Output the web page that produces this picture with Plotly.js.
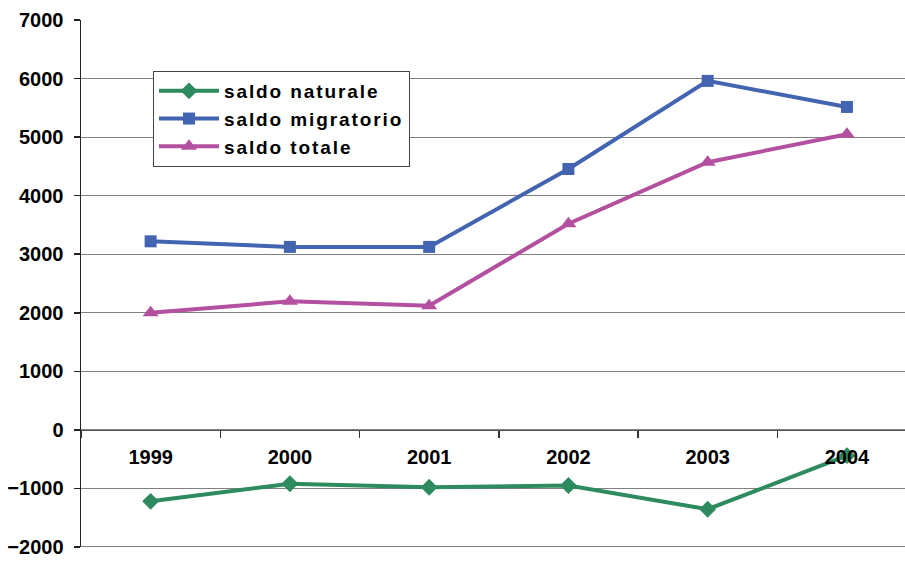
<!DOCTYPE html>
<html>
<head>
<meta charset="utf-8">
<script src="https://cdn.plot.ly/plotly-3.0.1.min.js"></script>
<style>
html,body{margin:0;padding:0;background:#fff;}
#chart{width:905px;height:561px;}
.legendtext{letter-spacing:1.9px;}
</style>
</head>
<body>
<div id="chart"></div>
<script>
const years = ['1999','2000','2001','2002','2003','2004'];
const saldoNaturale = [-1220, -920, -980, -950, -1355, -440];
const saldoMigratorio = [3220, 3125, 3125, 4455, 5960, 5515];
const saldoTotale = [2000, 2195, 2120, 3520, 4570, 5050];
const seriesNames = ['saldo naturale', 'saldo migratorio', 'saldo totale'];
const yTicks = [-2000, -1000, 0, 1000, 2000, 3000, 4000, 5000, 6000, 7000];

const fontFam = 'Liberation Sans, Arial, sans-serif';

const traces = [
  {x: years, y: saldoNaturale, name: seriesNames[0], type: 'scatter', mode: 'lines+markers',
   line: {color: '#2E8B5F', width: 4}, marker: {symbol: 'diamond', size: 13, color: '#2E8B5F'}},
  {x: years, y: saldoMigratorio, name: seriesNames[1], type: 'scatter', mode: 'lines+markers',
   line: {color: '#4264B1', width: 4}, marker: {symbol: 'square', size: 12, color: '#4264B1'}},
  {x: years, y: saldoTotale, name: seriesNames[2], type: 'scatter', mode: 'lines+markers',
   line: {color: '#B3509F', width: 4}, marker: {symbol: 'triangle-up', size: 14, color: '#B3509F'}}
];

const layout = {
  width: 905, height: 561,
  margin: {l: 81, r: 0, t: 20, b: 14, pad: 0},
  paper_bgcolor: '#fff', plot_bgcolor: '#fff',
  showlegend: true,
  font: {family: fontFam, size: 20, color: '#000'},
  xaxis: {
    type: 'category', range: [-0.5, 5.417],
    anchor: 'free', position: 0.2222,
    showline: true, linecolor: '#555', linewidth: 1.5,
    showgrid: false, zeroline: false,
    ticks: 'outside', tickson: 'boundaries', ticklen: 7, tickcolor: '#333', tickwidth: 1.5,
    tickfont: {family: fontFam, size: 20, color: '#000', weight: 'bold'},
    ticklabelstandoff: 9
  },
  yaxis: {
    range: [-2000, 7000], tickvals: yTicks,
    showgrid: true, gridcolor: '#808080', gridwidth: 1.2,
    zeroline: false,
    showline: true, linecolor: '#222', linewidth: 1.5,
    ticks: 'outside', ticklen: 6, tickcolor: '#222', tickwidth: 1.5,
    tickfont: {family: fontFam, size: 20, color: '#000', weight: 'bold'},
    ticklabelstandoff: 6
  },
  shapes: [
    {type: 'line', xref: 'paper', yref: 'y', x0: 0, x1: 1, y0: yTicks[0], y1: yTicks[0],
     line: {color: '#808080', width: 2}}
  ],
  legend: {
    bgcolor: '#fff', bordercolor: '#444', borderwidth: 1,
    font: {family: fontFam, size: 19, color: '#000', weight: 'bold'},
    tracegroupgap: 0, itemwidth: 60,
    xanchor: 'left', yanchor: 'top'
  }
};
// legend position in paper fraction
layout.legend.x = (153 - 81) / (905 - 81);
layout.legend.y = (561 - 14 - 71) / (561 - 34);

Plotly.newPlot('chart', traces, layout, {displayModeBar: false, staticPlot: true});
</script>
</body>
</html>
